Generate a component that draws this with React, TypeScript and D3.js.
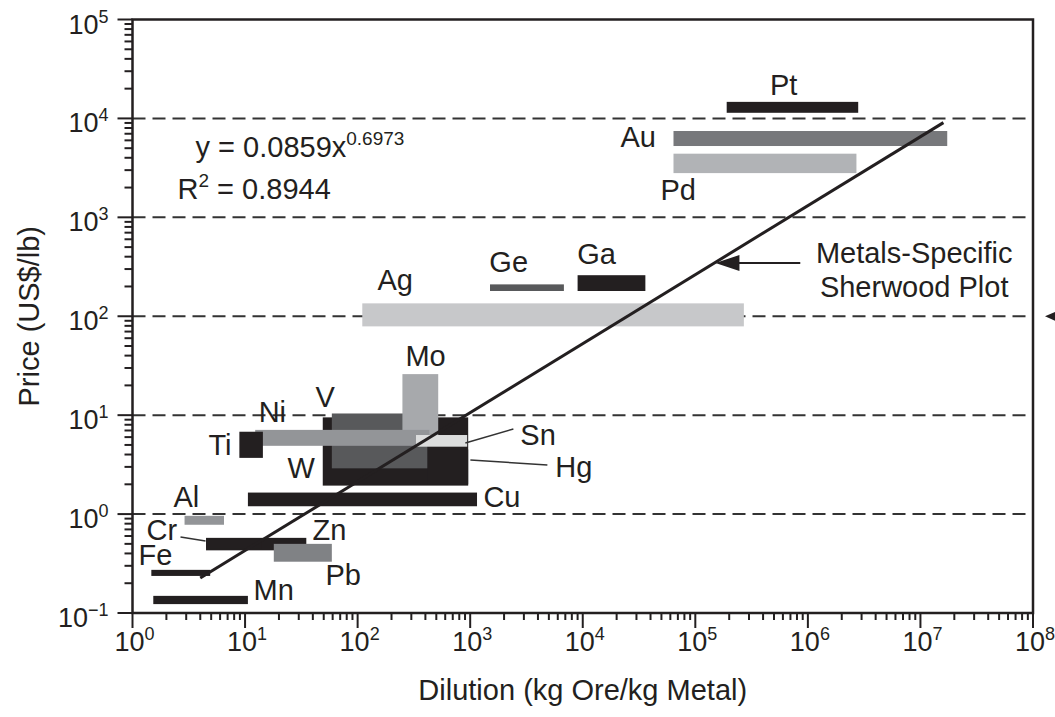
import React, { useEffect, useRef } from "react";
import * as d3 from "d3";

// metals, in drawing order (later ones sit on top)
const metalNames = ["W", "Hg", "V", "Mo", "Ni", "Sn", "Ti", "Cu", "Al", "Zn", "Cr", "Pb", "Fe", "Mn", "Ag", "Ge", "Ga", "Au", "Pd", "Pt"];
const dilutionLow = [49, 420, 59, 250, 12.3, 330, 8.9, 10.6, 2.9, 4.5, 4.5, 18, 1.47, 1.53, 110, 1500, 9000, 6.4e4, 6.4e4, 1.9e5];
const dilutionHigh = [960, 960, 416, 520, 434, 940, 14.4, 1150, 6.5, 35, 14, 59, 4.9, 10.6, 2.7e5, 6800, 36000, 1.73e7, 2.7e6, 2.8e6];
const priceLow = [1.94, 2.0, 2.9, 6, 4.9, 4.8, 3.7, 1.2, 0.78, 0.43, 0.45, 0.33, 0.237, 0.123, 79, 180, 180, 5260, 2800, 11400];
const priceHigh = [9.5, 4.5, 10.4, 26, 7.1, 6.3, 6.8, 1.65, 0.96, 0.575, 0.55, 0.5, 0.273, 0.149, 135, 210, 260, 7460, 4400, 14700];

const shade: Record<string, string> = {
	W: "#231f20", Hg: "#231f20", V: "#58595b", Mo: "#a7a9ac", Ni: "#939598", Sn: "#dcdddd",
	Ti: "#231f20", Cu: "#231f20", Al: "#939598", Zn: "#231f20", Cr: "#231f20", Pb: "#808285",
	Fe: "#231f20", Mn: "#231f20", Ag: "#c7c8ca", Ge: "#58595b", Ga: "#231f20", Au: "#77787b",
	Pd: "#b1b3b6", Pt: "#231f20"
};

// label anchors (dilution, price at baseline)
const labelNames = ["Pt", "Au", "Pd", "Ag", "Ge", "Ga", "Mo", "V", "Ni", "Ti", "W", "Cu", "Al", "Cr", "Zn", "Fe", "Pb", "Mn", "Sn", "Hg"];
const labelX = [4.6e5, 2.16e4, 4.9e4, 150, 1480, 8950, 266, 42.2, 13.2, 4.73, 23.8, 1310, 2.31, 1.33, 39.7, 1.13, 51.8, 11.9, 2790, 5710];
const labelY = [1.73e4, 5150, 1500, 185, 280, 338, 31.4, 12.1, 8.5, 3.96, 2.32, 1.18, 1.18, 0.547, 0.547, 0.305, 0.192, 0.135, 5.0, 2.37];

// leader lines [x1, y1, x2, y2]
const leaders = [
	[906, 5.24, 2420, 7.25], // Sn
	[1004, 3.52, 4850, 3.13], // Hg
	[2.67, 0.586, 4.45, 0.534] // Cr
];

// fit y = 0.0859 x^0.6973
const fitA = 0.0859;
const fitB = 0.6973;
const fitRange = [4, 1.6e7];

const xDecades = [0, 1, 2, 3, 4, 5, 6, 7, 8];
const yDecades = [-1, 0, 1, 2, 3, 4, 5];
const gridDecades = [0, 1, 2, 3, 4];

const FONT = "'Liberation Sans', Arial, Helvetica, sans-serif";
const INK = "#231f20";

const App = () => {
	const ref = useRef<SVGSVGElement>(null);

	useEffect(() => {
		const width = 1055;
		const height = 717;
		const m = { top: 19.5, right: 22, bottom: 104, left: 132.5 };

		const svg = d3.select(ref.current);
		svg.selectAll("*").remove();
		svg.attr("width", width).attr("height", height);

		const x = d3.scaleLog().domain([1, 1e8]).range([m.left, width - m.right]);
		const y = d3.scaleLog().domain([0.1, 1e5]).range([height - m.bottom, m.top]);
		const [x0, x1] = x.range();
		const [yb, yt] = y.range();

		//dashed grid
		svg.append("g")
			.selectAll("line")
			.data(gridDecades)
			.join("line")
			.attr("x1", x0)
			.attr("x2", x1)
			.attr("y1", d => y(Math.pow(10, d)))
			.attr("y2", d => y(Math.pow(10, d)))
			.attr("stroke", "#333")
			.attr("stroke-width", 2)
			.attr("stroke-dasharray", "13,7");

		//bars
		svg.append("g")
			.selectAll("rect")
			.data(metalNames.map((n, i) => i))
			.join("rect")
			.attr("x", i => x(dilutionLow[i]))
			.attr("width", i => x(dilutionHigh[i]) - x(dilutionLow[i]))
			.attr("y", i => y(priceHigh[i]))
			.attr("height", i => y(priceLow[i]) - y(priceHigh[i]))
			.attr("fill", i => shade[metalNames[i]]);

		//fit line
		const fitLine = d3.line<number>()
			.x(d => x(d))
			.y(d => y(fitA * Math.pow(d, fitB)));
		svg.append("path")
			.attr("d", fitLine(fitRange))
			.attr("fill", "none")
			.attr("stroke", INK)
			.attr("stroke-width", 3);

		//leaders
		svg.append("g")
			.selectAll("line")
			.data(leaders)
			.join("line")
			.attr("x1", d => x(d[0]))
			.attr("y1", d => y(d[1]))
			.attr("x2", d => x(d[2]))
			.attr("y2", d => y(d[3]))
			.attr("stroke", "#333")
			.attr("stroke-width", 1.5);

		//labels
		svg.append("g")
			.attr("font-family", FONT)
			.attr("font-size", 29)
			.attr("fill", INK)
			.selectAll("text")
			.data(labelNames)
			.join("text")
			.attr("x", (d, i) => x(labelX[i]))
			.attr("y", (d, i) => y(labelY[i]))
			.text(d => d);

		//annotation arrow
		const ay = y(346);
		const tipX = x(1.51e5);
		svg.append("line")
			.attr("x1", x(8.56e5))
			.attr("x2", tipX + 10)
			.attr("y1", ay)
			.attr("y2", ay)
			.attr("stroke", INK)
			.attr("stroke-width", 2);
		svg.append("path")
			.attr("d", `M${tipX},${ay} L${tipX + 24},${ay - 8} L${tipX + 24},${ay + 8} Z`)
			.attr("fill", INK);
		const note = svg.append("g")
			.attr("font-family", FONT)
			.attr("font-size", 29)
			.attr("fill", INK)
			.attr("text-anchor", "middle");
		note.append("text").attr("x", x(8.8e6)).attr("y", y(346)).text("Metals-Specific");
		note.append("text").attr("x", x(8.8e6)).attr("y", y(157)).text("Sherwood Plot");

		//equation
		const eq = svg.append("g").attr("font-family", FONT).attr("font-size", 29).attr("fill", INK);
		const t1 = eq.append("text").attr("x", x(3.63)).attr("y", y(4080));
		t1.append("tspan").text(`y = ${fitA}x`);
		t1.append("tspan").attr("dy", -12).attr("font-size", 19).text(fitB);
		const t2 = eq.append("text").attr("x", x(2.51)).attr("y", y(1535));
		t2.append("tspan").text("R");
		t2.append("tspan").attr("dy", -12).attr("font-size", 19).text("2");
		t2.append("tspan").attr("dy", 12).text(" = 0.8944");

		//frame
		svg.append("path")
			.attr("d", `M${x0},${yb} L${x0},${yt} L${x1},${yt} L${x1},${yb} Z`)
			.attr("fill", "none")
			.attr("stroke", INK)
			.attr("stroke-width", 2.5);

		//ticks
		const xt = x.ticks();
		svg.append("g")
			.selectAll("line")
			.data(xt)
			.join("line")
			.attr("x1", d => x(d))
			.attr("x2", d => x(d))
			.attr("y1", yb)
			.attr("y2", d => yb + (Number.isInteger(Math.log10(d)) ? 15 : 7))
			.attr("stroke", INK)
			.attr("stroke-width", 2);
		const yt2 = y.ticks();
		svg.append("g")
			.selectAll("line")
			.data(yt2)
			.join("line")
			.attr("y1", d => y(d))
			.attr("y2", d => y(d))
			.attr("x1", x0)
			.attr("x2", d => x0 - (Number.isInteger(Math.round(Math.log10(d) * 1e6) / 1e6) ? 15 : 8))
			.attr("stroke", INK)
			.attr("stroke-width", 2);

		//tick labels
		const exp = (n: number) => (n < 0 ? "\u2212" + Math.abs(n) : String(n));
		const xl = svg.append("g")
			.attr("font-family", FONT)
			.attr("font-size", 27)
			.attr("fill", INK)
			.attr("text-anchor", "middle")
			.selectAll("text")
			.data(xDecades)
			.join("text")
			.attr("x", d => x(Math.pow(10, d)) + 2)
			.attr("y", yb + 38);
		xl.append("tspan").text("10");
		xl.append("tspan").attr("dy", -11).attr("font-size", 18).text(d => exp(d));

		const yl = svg.append("g")
			.attr("font-family", FONT)
			.attr("font-size", 27)
			.attr("fill", INK)
			.attr("text-anchor", "end")
			.selectAll("text")
			.data(yDecades)
			.join("text")
			.attr("x", x0 - 24)
			.attr("y", d => y(Math.pow(10, d)) + 14);
		yl.append("tspan").text("10");
		yl.append("tspan").attr("dy", -11).attr("font-size", 18).text(d => exp(d));

		//axis titles
		svg.append("text")
			.attr("font-family", FONT)
			.attr("font-size", 29)
			.attr("fill", INK)
			.attr("text-anchor", "middle")
			.attr("x", (x0 + x1) / 2)
			.attr("y", 700)
			.text("Dilution (kg Ore/kg Metal)");
		svg.append("text")
			.attr("font-family", FONT)
			.attr("font-size", 29)
			.attr("fill", INK)
			.attr("text-anchor", "middle")
			.attr("transform", `translate(39,${(yb + yt) / 2}) rotate(-90)`)
			.text("Price (US$/lb)");

		//side marker
		const my = y(100);
		svg.append("path")
			.attr("d", `M${x1 + 12},${my} L${x1 + 28},${my - 7} L${x1 + 28},${my + 7} Z`)
			.attr("fill", INK);
	}, []);

	return (
		<div style={{ position: "absolute", left: 0, top: 0 }}>
			<svg ref={ref} style={{ display: "block", background: "#fff" }} />
		</div>
	);
};

export default App;
